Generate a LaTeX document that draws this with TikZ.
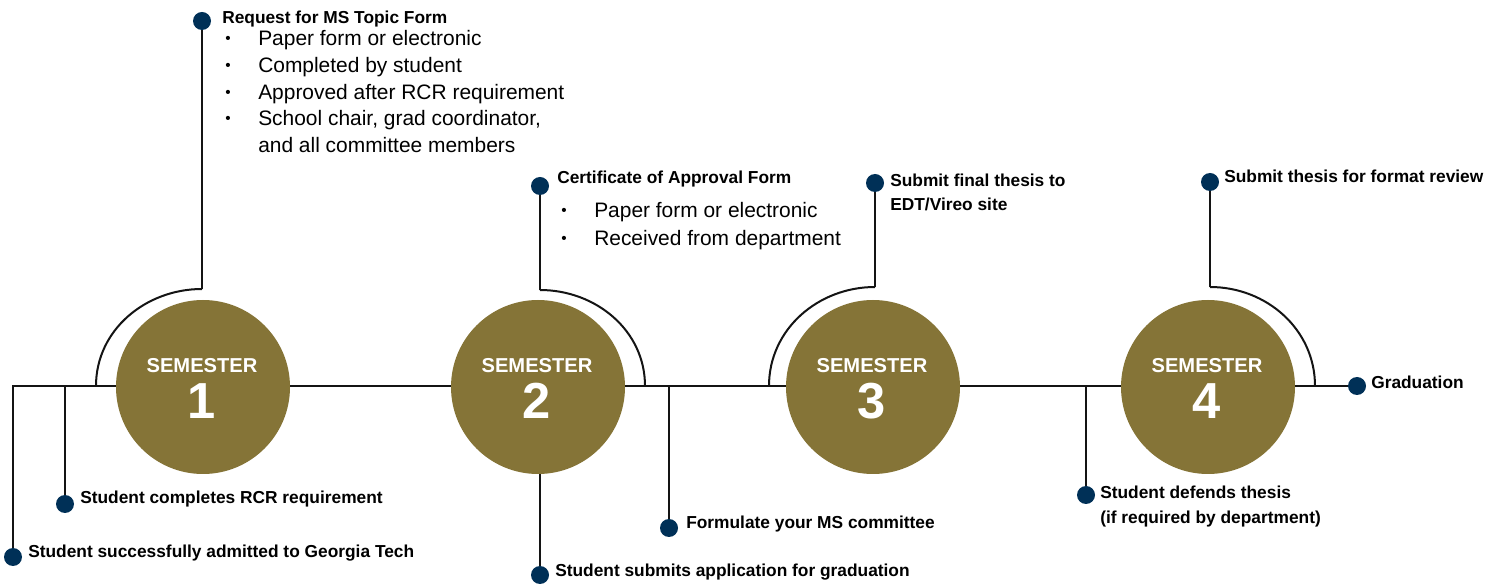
\documentclass[tikz,border=0pt]{standalone}
\usepackage{fontspec}
\setmainfont{Liberation Sans}
\definecolor{GTGold}{HTML}{857437}
\definecolor{GTNavy}{HTML}{003057}
\definecolor{Ink}{HTML}{141414}
\newcommand{\blt}{\makebox[24.75pt][l]{\raisebox{2pt}{\fontsize{11.5}{11}\selectfont\textbullet}}}
\tikzstyle{none}=[inner sep=0pt]
\tikzstyle{semester}=[circle,fill=GTGold,minimum size=130.5pt,inner sep=0pt]
\tikzstyle{semtext}=[inner sep=0pt,anchor=base,text=white,font=\fontsize{15.1}{18}\selectfont\bfseries]
\tikzstyle{semnum}=[inner sep=0pt,anchor=base,text=white,font=\fontsize{38}{40}\selectfont\bfseries]
\tikzstyle{dot}=[circle,fill=GTNavy,minimum size=13.5pt,inner sep=0pt]
\tikzstyle{title}=[inner sep=0pt,anchor=base west,font=\fontsize{13}{15}\selectfont\bfseries]
\tikzstyle{item}=[inner sep=0pt,anchor=base west,font=\fontsize{15.7}{18}\selectfont]
\tikzstyle{simple}=[-,draw=Ink,line width=1.8pt]
\tikzstyle{thin}=[-,draw=Ink,line width=1.5pt]
\pgfdeclarelayer{edgelayer}
\pgfdeclarelayer{nodelayer}
\pgfsetlayers{edgelayer,nodelayer,main}

\begin{document}
\begin{tikzpicture}[x=0.75pt,y=-0.75pt]
	\useasboundingbox (0,0) rectangle (1504,584);
	\begin{pgfonlayer}{nodelayer}
		\node [style=dot] (0) at (202, 21) {};
		\node [style=dot] (1) at (540, 186) {};
		\node [style=dot] (2) at (875, 183) {};
		\node [style=dot] (3) at (1210, 182) {};
		\node [style=dot] (4) at (13, 557) {};
		\node [style=dot] (5) at (65, 504) {};
		\node [style=dot] (6) at (540, 575) {};
		\node [style=dot] (7) at (669, 528) {};
		\node [style=dot] (8) at (1086, 495) {};
		\node [style=dot] (9) at (1357, 386) {};
		\node [style=semester] (10) at (203, 387) {};
		\node [style=semester] (11) at (538, 387) {};
		\node [style=semester] (12) at (873, 387) {};
		\node [style=semester] (13) at (1208, 387) {};

		% semester labels
		\node [style=semtext] (30) at (202, 373) {SEMESTER};
		\node [style=semnum] (31) at (202, 419) {1};
		\node [style=semtext] (32) at (537, 373) {SEMESTER};
		\node [style=semnum] (33) at (537, 419) {2};
		\node [style=semtext] (34) at (872, 373) {SEMESTER};
		\node [style=semnum] (35) at (872, 419) {3};
		\node [style=semtext] (36) at (1207, 373) {SEMESTER};
		\node [style=semnum] (37) at (1207, 419) {4};

		% top labels
		\node [style=title] (40) at (222, 24) {Request for MS Topic Form};
		\node [style=item] (41) at (225, 46) {\blt Paper form or electronic};
		\node [style=item] (42) at (225, 73) {\blt Completed by student};
		\node [style=item] (43) at (225, 100) {\blt Approved after RCR requirement};
		\node [style=item] (44) at (225, 126) {\blt School chair, grad coordinator,};
		\node [style=item] (45) at (258, 153) {and all committee members};
		\node [style=title] (46) at (557, 184) {Certificate of Approval Form};
		\node [style=item] (47) at (561, 218) {\blt Paper form or electronic};
		\node [style=item] (48) at (561, 246) {\blt Received from department};
		\node [style=title] (49) at (890, 187) {Submit final thesis to};
		\node [style=title] (50) at (890, 211) {EDT/Vireo site};
		\node [style=title] (51) at (1224, 183) {Submit thesis for format review};

		% bottom labels
		\node [style=title] (52) at (28, 557) {Student successfully admitted to Georgia Tech};
		\node [style=title] (53) at (80, 504) {Student completes RCR requirement};
		\node [style=title] (54) at (555, 576) {Student submits application for graduation};
		\node [style=title] (55) at (686, 529) {Formulate your MS committee};
		\node [style=title] (56) at (1100, 499) {Student defends thesis};
		\node [style=title] (57) at (1100, 524) {(if required by department)};
		\node [style=title] (58) at (1371, 389) {Graduation};
	\end{pgfonlayer}
	\begin{pgfonlayer}{edgelayer}
		\coordinate (14) at (202, 289);
		\coordinate (15) at (96, 386);
		\coordinate (16) at (540, 290);
		\coordinate (17) at (645, 386);
		\coordinate (18) at (875, 287);
		\coordinate (19) at (769, 386);
		\coordinate (20) at (1210, 287);
		\coordinate (21) at (1315, 386);

		% timeline
		\draw [style=simple] (4.center) |- (9.center);
		\draw [style=simple] (5.center) to (5.center |- 9.center);
		\draw [style=simple] (7.center) to (7.center |- 9.center);
		\draw [style=simple] (8.center) to (8.center |- 9.center);
		\draw [style=simple] (6.center) to (6.center |- 11.south);

		% arcs round the semesters
		\draw [style=simple] (0.center) to (14);
		\draw [style=thin, out=180, in=90] (14) to (15);
		\draw [style=simple] (1.center) to (16);
		\draw [style=thin, out=0, in=90] (16) to (17);
		\draw [style=simple] (2.center) to (18);
		\draw [style=thin, out=180, in=90] (18) to (19);
		\draw [style=simple] (3.center) to (20);
		\draw [style=thin, out=0, in=90] (20) to (21);
	\end{pgfonlayer}
\end{tikzpicture}
\end{document}
